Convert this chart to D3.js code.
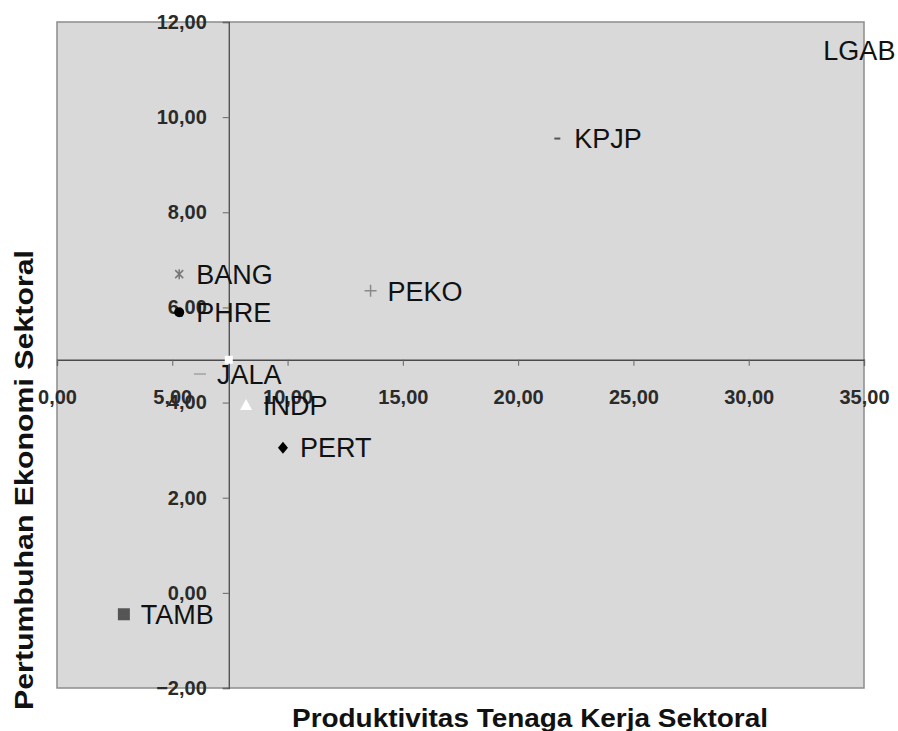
<!DOCTYPE html>
<html>
<head>
<meta charset="utf-8">
<script src="https://cdn.jsdelivr.net/npm/d3@7"></script>
<style>
  body { margin: 0; background: #fff; }
  text { font-family: "Liberation Sans", Arial, sans-serif; }
</style>
</head>
<body>
<svg id="chart" width="898" height="731"></svg>
<script>
// sectors and their values
var sectors = ["LGAB", "KPJP", "PEKO", "BANG", "PHRE", "JALA", "INDP", "PERT", "TAMB"];
var productivity = [32.5, 21.7, 13.6, 5.3, 5.3, 6.2, 8.2, 9.8, 2.9];
var growth = [11.4, 9.55, 6.35, 6.7, 5.9, 4.6, 3.95, 3.05, -0.45];
var xTicks = [0, 5, 10, 15, 20, 25, 30, 35];
var yTicks = [-2, 0, 2, 4, 6, 8, 10, 12];
// where the axes cross (averages)
var crossX = 7.45;
var crossY = 4.9;

var data = sectors.map(function(s, i) {
  return { name: s, x: productivity[i], y: growth[i] };
});

// marker look for each sector
var markerStyle = {
  LGAB: { shape: "none" },
  KPJP: { shape: "dash", w: 6, fill: "#555" },
  PEKO: { shape: "plus", stroke: "#8a8a8a" },
  BANG: { shape: "cross", stroke: "#777" },
  PHRE: { shape: "circle", fill: "#000" },
  JALA: { shape: "dash", w: 12, fill: "#b0b0b0" },
  INDP: { shape: "triangle", fill: "#fff" },
  PERT: { shape: "diamond", fill: "#000" },
  TAMB: { shape: "square", fill: "#555" }
};

var svg = d3.select("#chart");

var x = d3.scaleLinear().domain([0, 35]).range([57, 864]);
var y = d3.scaleLinear().domain([-2, 12]).range([688, 22]);

var fmt = function(d) { return d3.format(".2f")(d).replace(".", ","); };

// plot area
svg.append("rect")
  .attr("x", x(0)).attr("y", y(12))
  .attr("width", x(35) - x(0)).attr("height", y(-2) - y(12))
  .attr("fill", "#d9d9d9")
  .attr("stroke", "#8c8c8c")
  .attr("stroke-width", 1.5);

// x axis crossing at crossY
var xAxis = svg.append("g")
  .attr("transform", "translate(0," + y(crossY) + ")")
  .call(d3.axisBottom(x).tickValues(xTicks).tickFormat(fmt).tickSize(6).tickPadding(32));

// y axis crossing at crossX
var yAxis = svg.append("g")
  .attr("transform", "translate(" + x(crossX) + ",0)")
  .call(d3.axisLeft(y).tickValues(yTicks).tickFormat(fmt).tickSize(6).tickPadding(16));

[xAxis, yAxis].forEach(function(g) {
  g.select(".domain").attr("stroke", "#4a4a4a").attr("stroke-width", 1.3);
  g.selectAll(".tick line").attr("stroke", "#666");
  g.selectAll(".tick text")
    .attr("font-size", 20)
    .attr("font-weight", "bold")
    .attr("fill", "#2a2a2a")
    .style("font-family", "'Liberation Sans', Arial, sans-serif");
});
xAxis.selectAll(".tick text").attr("dy", "0.32em");

// white marker where the axes meet
svg.append("rect")
  .attr("x", x(crossX) - 4).attr("y", y(crossY) - 4)
  .attr("width", 8).attr("height", 8)
  .attr("fill", "#fff");

// points
var pts = svg.append("g").selectAll("g")
  .data(data)
  .enter()
  .append("g")
  .attr("transform", function(d) { return "translate(" + x(d.x) + "," + y(d.y) + ")"; });

pts.each(function(d) {
  var g = d3.select(this);
  var m = markerStyle[d.name];
  if (m.shape == "dash") {
    g.append("rect").attr("x", -m.w / 2).attr("y", -1).attr("width", m.w).attr("height", 2).attr("fill", m.fill);
  } else if (m.shape == "plus") {
    g.append("path").attr("d", "M-6,0H6M0,-6V6").attr("stroke", m.stroke).attr("stroke-width", 1.5);
  } else if (m.shape == "cross") {
    g.append("path").attr("d", "M-4,-4L4,4M-4,4L4,-4M0,-5V5").attr("stroke", m.stroke).attr("stroke-width", 1.5);
  } else if (m.shape == "circle") {
    g.append("circle").attr("r", 5).attr("fill", m.fill);
  } else if (m.shape == "triangle") {
    g.append("path").attr("d", "M0,-6L6,5H-6Z").attr("fill", m.fill);
  } else if (m.shape == "diamond") {
    g.append("path").attr("d", "M0,-6L5,0L0,6L-5,0Z").attr("fill", m.fill);
  } else if (m.shape == "square") {
    g.append("rect").attr("x", -6).attr("y", -6).attr("width", 12).attr("height", 12).attr("fill", m.fill);
  }
});

pts.append("text")
  .attr("x", 17)
  .attr("dy", "0.36em")
  .attr("font-size", 27)
  .attr("fill", "#111")
  .text(function(d) { return d.name; });

// axis titles
svg.append("text")
  .attr("x", 530).attr("y", 727)
  .attr("text-anchor", "middle")
  .attr("font-size", 25)
  .attr("font-weight", "bold")
  .attr("fill", "#111")
  .attr("textLength", 476)
  .attr("lengthAdjust", "spacingAndGlyphs")
  .text("Produktivitas Tenaga Kerja Sektoral");

svg.append("text")
  .attr("transform", "translate(33,480) rotate(-90)")
  .attr("text-anchor", "middle")
  .attr("font-size", 25)
  .attr("font-weight", "bold")
  .attr("fill", "#111")
  .attr("textLength", 460)
  .attr("lengthAdjust", "spacingAndGlyphs")
  .text("Pertumbuhan Ekonomi Sektoral");
</script>
</body>
</html>
